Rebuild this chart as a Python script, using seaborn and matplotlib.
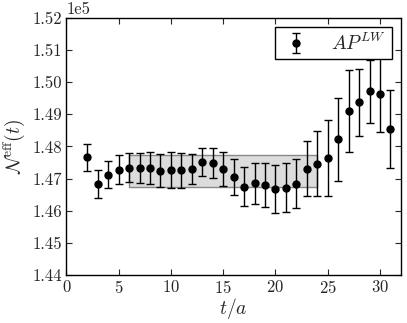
import numpy as np
import matplotlib
matplotlib.use("Agg")
import matplotlib.pyplot as plt
import seaborn as sns

# effective N(t) values, in units of 1e5
t_vals = list(range(2, 32))
n_eff = [1.4766, 1.4684, 1.4712, 1.4728, 1.4734, 1.4734, 1.4733, 1.4725, 1.4726, 1.4726,
         1.4729, 1.4751, 1.4749, 1.4729, 1.4704, 1.4675, 1.4685, 1.4680, 1.4669, 1.4672,
         1.4684, 1.4731, 1.4747, 1.4765, 1.4822, 1.4911, 1.4938, 1.4972, 1.4963, 1.4854]
n_err = [0.0041, 0.0043, 0.0042, 0.0045, 0.0045, 0.0047, 0.0050, 0.0052, 0.0056, 0.0054,
         0.0047, 0.0043, 0.0047, 0.0053, 0.0056, 0.0061, 0.0065, 0.0068, 0.0075, 0.0077,
         0.0076, 0.0086, 0.0102, 0.0118, 0.0128, 0.0127, 0.0104, 0.0098, 0.0118, 0.0120]

# fit band
fit_range = [6, 24]
fit_low = 1.4675
fit_high = 1.4775

sns.set_style("ticks")
plt.rcParams.update({
    "font.family": "cmr10",
    "mathtext.fontset": "cm",
    "axes.formatter.use_mathtext": True,
    "xtick.direction": "in",
    "ytick.direction": "in",
    "xtick.top": True,
    "ytick.right": True,
    "axes.edgecolor": "black",
    "axes.linewidth": 1.0,
})

scale = 1e5
t = np.array(t_vals)
y = np.array(n_eff) * scale
yerr = np.array(n_err) * scale

fig, ax = plt.subplots(figsize=(4.07, 3.23), dpi=100)

ax.fill_between(fit_range, fit_low * scale, fit_high * scale,
                facecolor="#dcdcdc", edgecolor="#888888", linewidth=1.0, zorder=1)
ax.errorbar(t, y, yerr=yerr, fmt="o", color="black", ms=5, capsize=3,
            elinewidth=1.0, capthick=1.0, label=r"$AP^{LW}$", zorder=3)

ax.set_xlim(0, 32)
ax.set_ylim(1.44 * scale, 1.52 * scale)
ax.set_xticks([0, 5, 10, 15, 20, 25, 30])
ax.set_yticks(np.arange(1.44, 1.5201, 0.01) * scale)
ax.ticklabel_format(axis="y", style="sci", scilimits=(0, 0), useMathText=False)
ax.tick_params(labelsize=12, length=4, pad=3)
ax.yaxis.get_offset_text().set_fontsize(12)

ax.set_xlabel(r"$t/a$", fontsize=14, labelpad=0)
ax.set_ylabel(r"$\mathcal{N}^{\rm eff}(t)$", fontsize=14)

leg = ax.legend(loc="upper right", fontsize=14, frameon=True, fancybox=False,
                handletextpad=1.0, handlelength=1.6, borderpad=0.3,
                borderaxespad=0.45, framealpha=1.0)
leg.get_frame().set_edgecolor("black")
leg.get_frame().set_linewidth(1.0)
leg.set_zorder(10)

fig.subplots_adjust(left=0.163, right=0.985, top=0.945, bottom=0.148)
fig.savefig("out.png", dpi=100)
